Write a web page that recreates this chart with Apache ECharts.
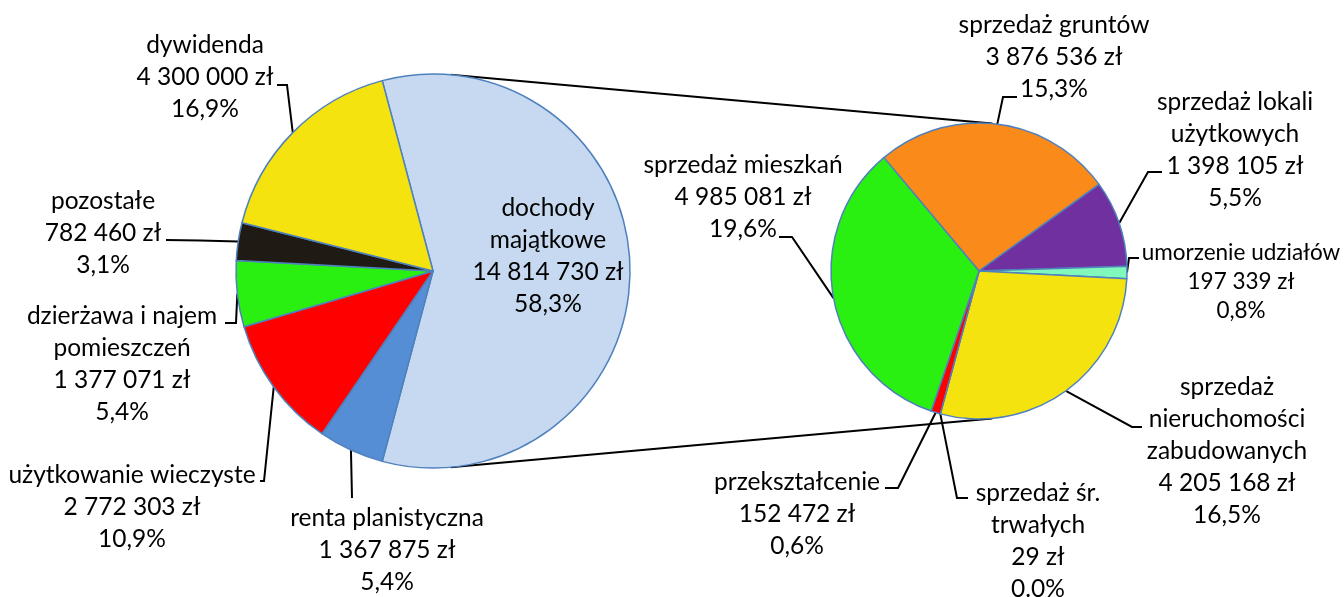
<!DOCTYPE html>
<html>
<head>
<meta charset="utf-8">
<script src="https://cdn.jsdelivr.net/npm/echarts@6/dist/echarts.min.js"></script>
<style>
  html, body { margin: 0; padding: 0; background: #fff; }
  #chart { width: 1344px; height: 597px; }
</style>
</head>
<body>
<div id="chart"></div>
<script>
// koło 1: dochody (pierwszy kawałek rozbity na kole 2)
const leftNames = ['dochody\nmajątkowe', 'renta planistyczna', 'użytkowanie wieczyste', 'dzierżawa i najem\npomieszczeń', 'pozostałe', 'dywidenda']
const leftValues = [14814730, 1367875, 2772303, 1377071, 782460, 4300000]
const leftPct = ['58,3%', '5,4%', '10,9%', '5,4%', '3,1%', '16,9%']

// koło 2: dochody majątkowe
const rightNames = ['sprzedaż gruntów', 'sprzedaż lokali\nużytkowych', 'umorzenie udziałów', 'sprzedaż\nnieruchomości\nzabudowanych', 'sprzedaż śr.\ntrwałych', 'przekształcenie', 'sprzedaż mieszkań']
const rightValues = [3876536, 1398105, 197339, 4205168, 29, 152472, 4985081]
const rightPct = ['15,3%', '5,5%', '0,8%', '16,5%', '0.0%', '0,6%', '19,6%']

const leftColors = ['#c6d9f0', '#558ed5', '#ff0000', '#2af012', '#1f1b14', '#f5e30f']
const rightColors = ['#fa8a19', '#7030a0', '#80f7bb', '#f5e30f', '#c0504d', '#ff0000', '#2af012']

const L = { cx: 433, cy: 271, r: 197 }
const R = { cx: 979, cy: 271, r: 148 }

// pozycje etykiet: [środek x, góra y, załamanie x, y, koniec x, y]
const leftLabelPos = [
  [548, 192],
  [387, 502, 351.5, 475, 352, 498],
  [132, 459, 264, 481, 260, 481],
  [122, 300, 236, 323, 225, 323],
  [103, 185, 200, 240.5, 166, 240],
  [205, 29, 287, 85, 277, 85]
]
const rightLabelPos = [
  [1054, 9, 1003, 97, 1017, 97],
  [1235, 86, 1148, 172, 1162, 172],
  [1241, 238.5, 1129, 258, 1139, 258],
  [1227, 371, 1132, 427, 1142, 427],
  [1038, 477, 957, 498, 968, 498],
  [797, 466, 898, 488, 885, 488],
  [743, 149, 792, 237, 779, 237]
]

function fmtZl(v) {
  return String(v).replace(/\B(?=(\d{3})+(?!\d))/g, ' ') + ' zł'
}

function placeLabels(pos) {
  return function(params) {
    const p = pos[params.dataIndex]
    const out = { x: p[0], y: p[1], align: 'center', verticalAlign: 'top' }
    if (p.length > 2 && params.labelLinePoints) {
      const pts = params.labelLinePoints
      out.labelLinePoints = [pts[0], [p[2], p[3]], [p[4], p[5]]]
    }
    return out
  }
}

const labelStyle = {
  show: true,
  position: 'outside',
  fontFamily: 'Lato',
  fontSize: 24.5,
  lineHeight: 32,
  color: '#000'
}

function buildData(names, values, colors) {
  return names.map((n, i) => ({
    name: n,
    value: values[i],
    itemStyle: { color: colors[i] }
  }))
}

const leftData = buildData(leftNames, leftValues, leftColors)
leftData[0].label = { position: 'inside' }
leftData[0].labelLine = { show: false }

const rightData = buildData(rightNames, rightValues, rightColors)
// etykieta przy prawej krawędzi - ciaśniej
rightData[2].label = { fontSize: 22.5, lineHeight: 29 }

const leftSum = leftValues.reduce((a, b) => a + b, 0)

// linie łączące koła (styczne zewnętrzne)
const s = (L.r - R.r) / (R.cx - L.cx)
const c = Math.sqrt(1 - s * s)
const connectors = [-1, 1].map(k => ({
  type: 'line',
  z: 0,
  shape: {
    x1: L.cx + L.r * s, y1: L.cy + k * L.r * c,
    x2: R.cx + R.r * s, y2: R.cy + k * R.r * c
  },
  style: { stroke: '#000', lineWidth: 2 }
}))

const lineOpt = { show: true, length: 10, length2: 10, smooth: false, lineStyle: { color: '#000', width: 2 } }

const chart = echarts.init(document.getElementById('chart'))
chart.setOption({
  animation: false,
  backgroundColor: '#fff',
  graphic: connectors,
  series: [
    {
      type: 'pie',
      center: [L.cx, L.cy],
      radius: L.r,
      startAngle: 180 * leftValues[0] / leftSum,
      avoidLabelOverlap: false,
      silent: true,
      z: 2,
      itemStyle: { borderColor: '#4f81bd', borderWidth: 1.5 },
      label: Object.assign({}, labelStyle, {
        formatter: p => p.name + '\n' + fmtZl(p.value) + '\n' + leftPct[p.dataIndex]
      }),
      labelLine: lineOpt,
      labelLayout: placeLabels(leftLabelPos),
      data: leftData
    },
    {
      type: 'pie',
      center: [R.cx, R.cy],
      radius: R.r,
      startAngle: 130,
      avoidLabelOverlap: false,
      silent: true,
      z: 2,
      itemStyle: { borderColor: '#4f81bd', borderWidth: 1.5 },
      label: Object.assign({}, labelStyle, {
        formatter: p => p.name + '\n' + fmtZl(p.value) + '\n' + rightPct[p.dataIndex]
      }),
      labelLine: lineOpt,
      labelLayout: placeLabels(rightLabelPos),
      data: rightData
    }
  ]
})
</script>
</body>
</html>
